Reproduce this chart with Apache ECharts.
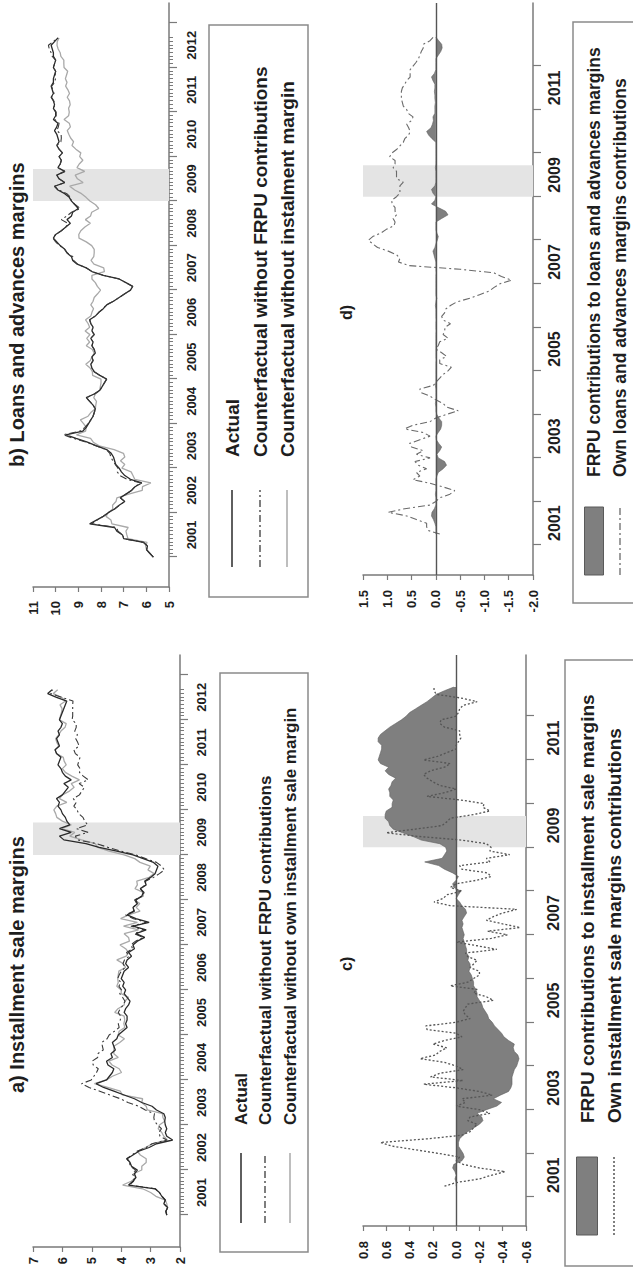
<!DOCTYPE html>
<html>
<head>
<meta charset="utf-8">
<script src="https://cdn.jsdelivr.net/npm/echarts@6/dist/echarts.min.js"></script>
<style>
  html, body { margin: 0; padding: 0; background: #fff; }
  body { width: 633px; height: 1276px; overflow: hidden; position: relative; }
  /* the figure is laid out landscape and turned a quarter turn counter-clockwise */
  #chart { position: absolute; left: 0; top: 0; width: 1276px; height: 633px;
           transform-origin: 0 0; transform: translateY(1276px) rotate(-90deg); }
</style>
</head>
<body>
<div id="chart"></div>
<script>
// ---------- data: monthly, January 2001 .. September 2012 ----------
const monthCount = 141;
const months = Array.from({ length: monthCount }, (_, i) => 2001 + i / 12);

const crisisBand = [2009.0, 2009.72];

const yearTicksAB = [2001, 2002, 2003, 2004, 2005, 2006, 2007, 2008, 2009, 2010, 2011, 2012, 2013];
const yearLabelsAB = [2001.5, 2002.5, 2003.5, 2004.5, 2005.5, 2006.5, 2007.5, 2008.5, 2009.5, 2010.5, 2011.5, 2012.5];
const yearTicksCD = [2001, 2002, 2003, 2004, 2005, 2006, 2007, 2008, 2009, 2010, 2011, 2012];
const yearLabelsCD = [2001.5, 2003.5, 2005.5, 2007.5, 2009.5, 2011.5];

// a) installment sale margins
const instActual = [
  2.45, 2.48, 2.42, 2.55, 2.50, 2.62, 2.70, 2.85, 3.75, 3.60, 3.50, 3.55,
  3.45, 3.65, 3.70, 3.80, 3.60, 3.40, 3.05, 2.80, 2.25, 2.45, 2.50, 2.45,
  2.50, 2.52, 2.50, 2.55, 2.80, 2.95, 3.30, 3.55, 3.90, 4.25, 4.60, 4.85,
  4.50, 4.40, 4.30, 4.25, 4.45, 4.50, 4.30, 4.35, 4.20, 4.25, 4.30, 4.15,
  4.10, 3.95, 3.80, 3.85, 3.80, 3.80, 3.90, 3.85, 3.75, 3.70, 3.80, 3.90,
  3.85, 3.95, 3.90, 4.00, 3.95, 3.90, 3.75, 3.85, 3.80, 3.65, 3.75, 3.55,
  3.60, 3.45, 3.20, 3.50, 3.15, 3.60, 3.05, 3.50, 3.80, 3.55, 3.60, 3.45,
  3.50, 3.30, 3.25, 3.35, 3.15, 3.20, 3.00, 2.85, 2.80, 2.75, 2.90, 3.25,
  3.60, 4.15, 4.75, 5.20, 5.95, 6.10, 5.70, 6.10, 5.75, 5.85, 5.90, 6.00,
  6.05, 6.15, 6.10, 6.20, 6.00, 5.90, 5.80, 5.95, 5.70, 5.90, 6.00, 6.05,
  6.15, 6.10, 6.05, 6.20, 6.25, 6.10, 6.15, 6.20, 6.10, 6.15, 6.05, 6.00,
  6.10, 6.05, 6.00, 5.95, 5.90, 5.85, 6.20, 6.50, 6.35
];
const instNoFrpu = [
  2.45, 2.48, 2.42, 2.55, 2.50, 2.61, 2.70, 2.84, 3.72, 3.58, 3.55, 3.62,
  3.51, 3.69, 3.72, 3.82, 3.63, 3.46, 3.15, 2.95, 2.45, 2.68, 2.72, 2.63,
  2.76, 2.87, 2.89, 2.87, 3.18, 3.40, 3.77, 4.03, 4.38, 4.73, 5.09, 5.35,
  5.02, 4.93, 4.84, 4.78, 4.95, 4.99, 4.80, 4.80, 4.61, 4.64, 4.66, 4.48,
  4.41, 4.23, 4.07, 4.10, 4.03, 4.02, 4.10, 4.03, 3.93, 3.87, 3.95, 4.05,
  3.99, 4.08, 4.01, 4.12, 4.07, 4.00, 3.86, 3.94, 3.89, 3.73, 3.82, 3.61,
  3.67, 3.51, 3.25, 3.56, 3.20, 3.67, 3.14, 3.58, 3.85, 3.58, 3.60, 3.47,
  3.54, 3.28, 3.22, 3.35, 3.17, 3.17, 2.90, 2.70, 2.53, 2.63, 2.80, 3.17,
  3.51, 4.01, 4.45, 4.83, 5.49, 5.56, 5.13, 5.52, 5.14, 5.24, 5.30, 5.45,
  5.50, 5.61, 5.53, 5.63, 5.42, 5.34, 5.25, 5.43, 5.12, 5.29, 5.42, 5.40,
  5.48, 5.44, 5.40, 5.56, 5.61, 5.43, 5.48, 5.55, 5.49, 5.58, 5.53, 5.53,
  5.67, 5.65, 5.65, 5.65, 5.65, 5.64, 6.03, 6.40, 6.33
];
const instNoOwn = [
  2.45, 2.48, 2.42, 2.45, 2.50, 2.82, 3.00, 3.27, 3.95, 3.66, 3.50, 3.58,
  3.30, 3.30, 3.15, 3.15, 3.35, 3.45, 3.17, 2.95, 2.43, 2.55, 2.62, 2.74,
  2.70, 2.52, 2.58, 2.60, 3.11, 3.15, 3.30, 3.27, 3.96, 4.03, 4.46, 4.91,
  4.50, 4.30, 3.99, 4.07, 4.31, 4.42, 4.10, 4.25, 4.25, 4.25, 4.05, 3.89,
  4.10, 4.07, 3.88, 3.91, 3.88, 3.90, 4.22, 4.11, 3.90, 3.88, 3.75, 4.00,
  4.00, 4.15, 4.10, 4.12, 4.10, 4.08, 3.85, 3.93, 4.15, 3.83, 3.75, 3.85,
  4.04, 3.72, 3.75, 3.90, 3.41, 3.92, 3.45, 4.02, 3.75, 3.36, 3.49, 3.37,
  3.55, 3.25, 3.25, 3.53, 3.45, 3.47, 3.05, 2.88, 3.09, 3.01, 3.36, 3.54,
  3.90, 4.41, 4.80, 4.88, 5.35, 5.75, 5.58, 6.02, 5.70, 6.00, 6.19, 6.23,
  6.29, 6.19, 5.85, 6.10, 6.00, 5.76, 5.60, 5.70, 5.42, 5.68, 5.90, 6.00,
  5.87, 5.94, 5.97, 6.20, 6.25, 6.12, 6.19, 6.23, 6.13, 6.05, 5.91, 5.87,
  6.10, 6.07, 6.03, 6.01, 6.08, 5.89, 6.03, 6.31, 6.16
];

// b) loans and advances margins
const loanActual = [
  5.69, 5.84, 5.99, 5.95, 6.13, 7.00, 7.05, 7.30, 7.40, 8.50, 8.20, 7.90,
  7.68, 7.40, 7.20, 6.95, 7.15, 6.90, 6.65, 6.50, 6.20, 6.70, 6.95, 7.10,
  7.20, 7.35, 7.40, 7.45, 7.55, 7.75, 8.20, 8.60, 9.10, 9.55, 8.80, 8.65,
  8.55, 8.45, 8.35, 8.30, 8.25, 8.35, 8.50, 8.65, 8.30, 8.05, 7.95, 7.85,
  7.75, 8.05, 8.30, 8.40, 8.45, 8.35, 8.40, 8.25, 8.30, 8.40, 8.35, 8.45,
  8.30, 8.40, 8.35, 8.45, 8.50, 8.25, 8.10, 7.90, 7.75, 7.45, 7.20, 6.95,
  6.70, 6.60, 6.90, 7.20, 7.90, 8.40, 8.65, 9.05, 9.25, 9.30, 9.50, 9.60,
  9.80, 9.95, 10.10, 10.00, 9.75, 9.55, 9.35, 9.50, 9.30, 9.25, 9.00, 9.15,
  9.30, 9.40, 9.60, 9.90, 10.05, 9.60, 9.85, 9.95, 9.60, 9.90, 9.80, 9.75,
  9.85, 9.70, 9.85, 9.95, 9.85, 9.90, 9.95, 10.05, 9.95, 9.90, 10.10, 10.00,
  10.00, 10.10, 10.05, 10.10, 10.20, 10.10, 10.15, 10.20, 10.10, 10.10, 10.05, 10.00,
  10.10, 10.05, 10.00, 10.10, 10.10, 10.15, 10.20, 10.05, 9.90
];
const loanNoFrpu = [
  5.69, 5.84, 5.99, 5.95, 6.13, 7.00, 7.03, 7.25, 7.31, 8.42, 8.17, 7.90,
  7.68, 7.40, 7.19, 6.95, 7.15, 6.90, 6.65, 6.52, 6.25, 6.85, 7.17, 7.28,
  7.25, 7.37, 7.48, 7.57, 7.61, 7.76, 8.20, 8.65, 9.20, 9.67, 8.92, 8.71,
  8.57, 8.45, 8.35, 8.29, 8.25, 8.35, 8.50, 8.65, 8.29, 8.05, 7.95, 7.85,
  7.75, 8.05, 8.30, 8.41, 8.45, 8.35, 8.40, 8.25, 8.30, 8.40, 8.35, 8.46,
  8.30, 8.40, 8.36, 8.45, 8.50, 8.25, 8.09, 7.90, 7.77, 7.45, 7.20, 6.95,
  6.70, 6.60, 6.90, 7.21, 7.90, 8.40, 8.65, 9.03, 9.21, 9.24, 9.48, 9.60,
  9.83, 10.00, 10.12, 10.00, 9.75, 9.55, 9.47, 9.75, 9.50, 9.30, 8.91, 9.13,
  9.30, 9.34, 9.51, 9.88, 10.05, 9.60, 9.85, 9.95, 9.59, 9.90, 9.80, 9.75,
  9.85, 9.70, 9.85, 9.95, 9.77, 9.75, 9.76, 9.95, 9.88, 9.85, 10.04, 9.98,
  9.98, 10.08, 10.04, 10.08, 10.18, 10.07, 10.13, 10.18, 10.04, 10.01, 10.02, 10.00,
  10.10, 10.05, 10.00, 10.15, 10.20, 10.28, 10.32, 10.11, 9.90
];
const loanNoOwn = [
  5.69, 5.84, 5.99, 6.03, 5.97, 6.81, 6.86, 6.90, 6.80, 7.52, 7.56, 7.78,
  7.68, 7.48, 7.49, 7.34, 7.30, 6.78, 6.18, 6.17, 5.80, 6.51, 6.59, 6.67,
  7.08, 6.95, 7.14, 6.95, 7.01, 7.42, 8.08, 8.34, 8.46, 9.08, 8.68, 8.65,
  8.77, 8.91, 8.57, 8.45, 8.25, 8.23, 8.20, 8.32, 8.25, 8.06, 8.03, 8.00,
  8.00, 8.37, 8.38, 8.48, 8.67, 8.47, 8.40, 8.30, 8.38, 8.65, 8.50, 8.63,
  8.49, 8.70, 8.50, 8.57, 8.68, 8.45, 8.40, 8.33, 8.45, 8.35, 8.30, 8.15,
  8.02, 8.16, 8.25, 8.40, 8.40, 7.85, 7.88, 8.31, 8.44, 8.32, 8.30, 8.30,
  8.41, 8.65, 8.97, 8.98, 8.89, 8.71, 8.47, 8.69, 8.46, 8.41, 8.10, 8.24,
  8.49, 8.66, 8.86, 9.16, 9.38, 8.79, 9.04, 9.14, 8.72, 9.06, 8.96, 8.80,
  8.94, 8.89, 9.11, 9.28, 9.21, 9.34, 9.42, 9.49, 9.35, 9.40, 9.63, 9.43,
  9.40, 9.43, 9.36, 9.39, 9.49, 9.39, 9.46, 9.56, 9.50, 9.57, 9.52, 9.47,
  9.63, 9.64, 9.64, 9.77, 9.80, 9.89, 9.94, 9.93, 9.85
];

// c) decomposition of installment sale margins
const instFrpuContrib = [
  null, null, null, 0.00, 0.00, 0.01, 0.00, 0.01, 0.03, 0.02, -0.05, -0.07,
  -0.06, -0.04, -0.02, -0.02, -0.03, -0.06, -0.10, -0.15, -0.20, -0.23, -0.22, -0.18,
  -0.26, -0.35, -0.39, -0.32, -0.38, -0.45, -0.47, -0.48, -0.48, -0.48, -0.49, -0.50,
  -0.52, -0.53, -0.54, -0.53, -0.50, -0.49, -0.50, -0.45, -0.41, -0.39, -0.36, -0.33,
  -0.31, -0.28, -0.27, -0.25, -0.23, -0.22, -0.20, -0.18, -0.18, -0.17, -0.15, -0.15,
  -0.14, -0.13, -0.11, -0.12, -0.12, -0.10, -0.11, -0.09, -0.09, -0.08, -0.07, -0.06,
  -0.07, -0.06, -0.05, -0.06, -0.05, -0.07, -0.09, -0.08, -0.05, -0.03, 0.00, -0.02,
  -0.04, 0.02, 0.03, 0.00, -0.02, 0.03, 0.10, 0.15, 0.27, 0.12, 0.10, 0.08,
  0.09, 0.14, 0.30, 0.37, 0.46, 0.54, 0.57, 0.58, 0.61, 0.61, 0.60, 0.55,
  0.55, 0.54, 0.57, 0.57, 0.58, 0.56, 0.55, 0.52, 0.58, 0.61, 0.58, 0.65,
  0.67, 0.66, 0.65, 0.64, 0.64, 0.67, 0.67, 0.65, 0.61, 0.57, 0.52, 0.47,
  0.43, 0.40, 0.35, 0.30, 0.25, 0.21, 0.17, 0.10, 0.02
];
const instOwnContrib = [
  null, null, null, 0.10, 0.00, -0.20, -0.30, -0.42, -0.20, -0.06, 0.00, -0.03,
  0.15, 0.35, 0.55, 0.65, 0.25, -0.05, -0.12, -0.15, -0.18, -0.10, -0.12, -0.29,
  -0.20, 0.00, -0.08, -0.05, -0.31, -0.20, 0.00, 0.28, -0.06, 0.22, 0.14, -0.06,
  0.00, 0.10, 0.31, 0.18, 0.14, 0.08, 0.20, 0.10, -0.05, 0.00, 0.25, 0.26,
  0.00, -0.12, -0.08, -0.06, -0.08, -0.10, -0.32, -0.26, -0.15, -0.18, 0.05, -0.10,
  -0.15, -0.20, -0.20, -0.12, -0.15, -0.18, -0.10, -0.08, -0.35, -0.18, 0.00, -0.30,
  -0.44, -0.27, -0.55, -0.40, -0.26, -0.32, -0.40, -0.52, 0.05, 0.19, 0.11, 0.08,
  -0.05, 0.05, 0.00, -0.18, -0.30, -0.27, -0.05, -0.03, -0.29, -0.26, -0.46, -0.29,
  -0.30, -0.26, -0.05, 0.32, 0.60, 0.35, 0.12, 0.08, 0.05, -0.15, -0.29, -0.23,
  -0.24, -0.04, 0.25, 0.10, 0.00, 0.14, 0.20, 0.25, 0.28, 0.22, 0.10, 0.05,
  0.28, 0.16, 0.08, 0.00, 0.00, -0.02, -0.04, -0.03, -0.03, 0.10, 0.14, 0.13,
  0.00, -0.02, -0.03, -0.06, -0.18, -0.04, 0.17, 0.19, 0.19
];

// d) decomposition of loans and advances margins
const loanFrpuContrib = [
  null, null, null, 0.00, 0.00, 0.00, 0.02, 0.05, 0.09, 0.08, 0.03, 0.00,
  0.00, 0.00, 0.01, 0.00, 0.00, 0.00, 0.00, -0.02, -0.05, -0.15, -0.22, -0.18,
  -0.05, -0.02, -0.08, -0.12, -0.06, -0.01, 0.00, -0.05, -0.10, -0.12, -0.12, -0.06,
  -0.02, 0.00, 0.00, 0.01, 0.00, 0.00, 0.00, 0.00, 0.01, 0.00, 0.00, 0.00,
  0.00, 0.00, 0.00, -0.01, 0.00, 0.00, 0.00, 0.00, 0.00, 0.00, 0.00, -0.01,
  0.00, 0.00, -0.01, 0.00, 0.00, 0.00, 0.01, 0.00, -0.02, 0.00, 0.00, 0.00,
  0.00, 0.00, 0.00, -0.01, 0.00, 0.00, 0.00, 0.02, 0.04, 0.06, 0.02, 0.00,
  -0.03, -0.05, -0.02, 0.00, 0.00, 0.00, -0.12, -0.25, -0.20, -0.05, 0.09, 0.02,
  0.00, 0.06, 0.09, 0.02, 0.00, 0.00, 0.00, 0.00, 0.01, 0.00, 0.00, 0.00,
  0.00, 0.00, 0.00, 0.00, 0.08, 0.15, 0.19, 0.10, 0.07, 0.05, 0.06, 0.02,
  0.02, 0.02, 0.01, 0.02, 0.02, 0.03, 0.02, 0.02, 0.06, 0.09, 0.03, 0.00,
  0.00, 0.00, 0.00, -0.05, -0.10, -0.13, -0.12, -0.06, 0.00
];
const loanOwnContrib = [
  null, null, null, -0.08, 0.16, 0.19, 0.19, 0.40, 0.60, 0.98, 0.64, 0.12,
  0.00, -0.08, -0.29, -0.39, -0.15, 0.12, 0.47, 0.33, 0.40, 0.19, 0.36, 0.43,
  0.12, 0.40, 0.26, 0.50, 0.54, 0.33, 0.12, 0.26, 0.64, 0.47, 0.12, 0.00,
  -0.22, -0.46, -0.22, -0.15, 0.00, 0.12, 0.30, 0.33, 0.05, -0.01, -0.08, -0.15,
  -0.25, -0.32, -0.08, -0.08, -0.22, -0.12, 0.00, -0.05, -0.08, -0.25, -0.15, -0.18,
  -0.19, -0.30, -0.15, -0.12, -0.18, -0.20, -0.30, -0.43, -0.70, -0.90, -1.10, -1.20,
  -1.32, -1.56, -1.35, -1.20, -0.50, 0.55, 0.77, 0.74, 0.81, 0.98, 1.20, 1.30,
  1.39, 1.30, 1.13, 1.02, 0.86, 0.84, 0.88, 0.81, 0.84, 0.84, 0.90, 0.91,
  0.81, 0.74, 0.74, 0.74, 0.67, 0.81, 0.81, 0.81, 0.88, 0.84, 0.84, 0.95,
  0.91, 0.81, 0.74, 0.67, 0.64, 0.56, 0.53, 0.56, 0.60, 0.50, 0.47, 0.57,
  0.60, 0.67, 0.69, 0.71, 0.71, 0.71, 0.69, 0.64, 0.60, 0.53, 0.53, 0.53,
  0.47, 0.41, 0.36, 0.33, 0.30, 0.26, 0.26, 0.12, 0.05
];

// ---------- styling ----------
const FONT = '"Liberation Sans", Arial, Helvetica, sans-serif';
const AXIS = '#7a7a7a';
const TEXT = '#1e1e1e';
const DARK = '#2a2a2a';
const LIGHT = '#a9a9a9';
const DASHDOT = [7, 3, 2, 3];
const FILL = '#7f7f7f';

const pairs = vals => vals.map((v, i) => [months[i], v]);

function yearAxis(grid, min, max, ticks, labels, fontSize, margin) {
  return {
    type: 'value', gridIndex: grid, position: 'bottom', min, max,
    axisLine: { show: true, onZero: false, lineStyle: { color: AXIS, width: 1.5 } },
    axisTick: { show: true, customValues: ticks, length: 8, lineStyle: { color: AXIS, width: 1.2 } },
    axisLabel: { customValues: labels, formatter: v => String(Math.floor(v)), fontSize,
                 fontWeight: 'bold', color: TEXT, margin, fontFamily: FONT },
    splitLine: { show: false }
  };
}
function monthTickAxis(grid, min, max) {
  return {
    type: 'value', gridIndex: grid, position: 'bottom', min, max,
    axisLine: { show: false },
    axisTick: { show: true, customValues: months, length: 4, lineStyle: { color: AXIS, width: 1 } },
    axisLabel: { show: false }, splitLine: { show: false }
  };
}
function levelAxis(grid, min, max, interval, fontSize, margin, digits) {
  return {
    type: 'value', gridIndex: grid, min, max, interval,
    axisLine: { show: true, lineStyle: { color: AXIS, width: 1.5 } },
    axisTick: { show: true, length: 5, lineStyle: { color: AXIS, width: 1.2 } },
    axisLabel: { fontSize, fontWeight: 'bold', color: TEXT, margin, fontFamily: FONT,
                 formatter: v => digits ? (Math.abs(v) < 1e-9 ? (0).toFixed(digits) : v.toFixed(digits)) : String(v) },
    splitLine: { show: false }
  };
}
function bandSeries(x, y, withZero) {
  const s = {
    type: 'line', xAxisIndex: x, yAxisIndex: y, data: [], z: 1, silent: true,
    markArea: { silent: true, itemStyle: { color: '#e4e4e4' },
                data: [[{ xAxis: crisisBand[0] }, { xAxis: crisisBand[1] }]] }
  };
  return s;
}
function zeroLine() {
  return { silent: true, symbol: 'none', label: { show: false },
           lineStyle: { color: '#555', width: 1.4, type: 'solid' }, data: [{ yAxis: 0 }] };
}
function lineSeries(name, x, y, vals, color, width, dash, z) {
  return {
    name, type: 'line', xAxisIndex: x, yAxisIndex: y, data: pairs(vals), z,
    showSymbol: false, symbol: 'none', connectNulls: false, animation: false,
    lineStyle: { color, width, type: dash || 'solid' }, itemStyle: { color }
  };
}

// legend frames drawn as plain graphics
function legendGraphics(cfg) {
  const els = [{
    type: 'rect', shape: { x: cfg.box[0], y: cfg.box[1], width: cfg.box[2], height: cfg.box[3] },
    style: { fill: '#fff', stroke: '#8a8a8a', lineWidth: 1.5 }, z: 10
  }];
  cfg.items.forEach((it, i) => {
    const yy = cfg.rows[i];
    if (it.kind === 'rect') {
      els.push({ type: 'rect', shape: { x: cfg.sample[0], y: yy - it.h / 2, width: cfg.sample[1] - cfg.sample[0], height: it.h },
                 style: { fill: FILL, stroke: '#5a5a5a', lineWidth: 1 }, z: 11 });
    } else {
      els.push({ type: 'line', shape: { x1: cfg.sample[0], y1: yy, x2: cfg.sample[1], y2: yy },
                 style: { stroke: it.color, lineWidth: it.width, lineDash: it.dash || null }, z: 11 });
    }
    els.push({ type: 'text', x: cfg.textX, y: yy, z: 11,
               style: { text: it.label, font: 'bold ' + cfg.font + 'px ' + FONT, fill: TEXT,
                        align: 'left', verticalAlign: 'middle', textAlign: 'left', textVerticalAlign: 'middle' } });
  });
  return els;
}

const graphics = [].concat(
  legendGraphics({ box: [24, 220, 579, 88], sample: [53, 123], textX: 151, rows: [241, 265, 290], font: 17,
    items: [
      { kind: 'line', color: DARK, width: 1.5, label: 'Actual' },
      { kind: 'line', color: '#3a3a3a', width: 1.3, dash: DASHDOT, label: 'Counterfactual without FRPU contributions' },
      { kind: 'line', color: LIGHT, width: 1.5, label: 'Counterfactual without own installment sale margin' }
    ] }),
  legendGraphics({ box: [679, 209, 572, 99], sample: [709, 786], textX: 819, rows: [232, 260, 287], font: 19,
    items: [
      { kind: 'line', color: DARK, width: 1.5, label: 'Actual' },
      { kind: 'line', color: '#3a3a3a', width: 1.3, dash: DASHDOT, label: 'Counterfactual without FRPU contributions' },
      { kind: 'line', color: LIGHT, width: 1.5, label: 'Counterfactual without instalment margin' }
    ] }),
  legendGraphics({ box: [10, 565, 606, 120], sample: [41, 119], textX: 153, rows: [587, 614], font: 19,
    items: [
      { kind: 'rect', h: 21, label: 'FRPU contributions to installment sale margins' },
      { kind: 'line', color: '#555', width: 1.5, dash: [2, 2], label: 'Own installment sale margins contributions' }
    ] }),
  legendGraphics({ box: [673, 573, 581, 120], sample: [701, 769], textX: 799, rows: [594, 620], font: 17.5,
    items: [
      { kind: 'rect', h: 19, label: 'FRPU contributions to loans and advances margins' },
      { kind: 'line', color: '#6a6a6a', width: 1.3, dash: DASHDOT, label: 'Own loans and advances margins contributions' }
    ] })
);

const titleStyle = (size) => ({ fontSize: size, fontWeight: 'bold', color: TEXT, fontFamily: FONT });

const option = {
  backgroundColor: '#fff',
  animation: false,
  title: [
    { text: 'a) Installment sale margins', left: 183, top: 7, padding: 0, textStyle: titleStyle(20) },
    { text: 'b) Loans and advances margins', left: 809, top: 7, padding: 0, textStyle: titleStyle(20) },
    { text: 'c)', left: 305, top: 338, padding: 0, textStyle: titleStyle(16) },
    { text: 'd)', left: 956, top: 338, padding: 0, textStyle: titleStyle(16) }
  ],
  grid: [
    { left: 29, top: 33, width: 592, height: 147 },
    { left: 689, top: 33, width: 584, height: 136 },
    { left: 50, top: 363, width: 571, height: 163 },
    { left: 701, top: 363, width: 572, height: 170 }
  ],
  xAxis: [
    yearAxis(0, 2000.29, 2013.44, yearTicksAB, yearLabelsAB, 13, 15),
    yearAxis(1, 2000.33, 2013.45, yearTicksAB, yearLabelsAB, 13, 16),
    yearAxis(2, 2000.34, 2013.40, yearTicksCD, yearLabelsCD, 16, 19),
    yearAxis(3, 2000.31, 2013.45, yearTicksCD, yearLabelsCD, 16, 13),
    monthTickAxis(0, 2000.29, 2013.44),
    monthTickAxis(1, 2000.33, 2013.45)
  ],
  yAxis: [
    levelAxis(0, 2, 7, 1, 13, 10, 0),
    levelAxis(1, 5, 11, 1, 13, 14, 0),
    levelAxis(2, -0.6, 0.8, 0.2, 13, 15, 1),
    levelAxis(3, -2, 1.5, 0.5, 13, 15, 1)
  ],
  graphic: { elements: graphics },
  series: [
    // a)
    bandSeries(0, 0),
    lineSeries('Counterfactual without own installment sale margin', 0, 0, instNoOwn, LIGHT, 1.3, null, 2),
    lineSeries('Counterfactual without FRPU contributions', 0, 0, instNoFrpu, '#3a3a3a', 1.1, DASHDOT, 3),
    lineSeries('Actual', 0, 0, instActual, DARK, 1.3, null, 4),
    // b)
    bandSeries(1, 1),
    lineSeries('Counterfactual without instalment margin', 1, 1, loanNoOwn, LIGHT, 1.3, null, 2),
    lineSeries('Actual', 1, 1, loanActual, DARK, 1.3, null, 3),
    lineSeries('Counterfactual without FRPU contributions', 1, 1, loanNoFrpu, '#3a3a3a', 1.1, DASHDOT, 4),
    // c)
    bandSeries(2, 2),
    Object.assign(lineSeries('FRPU contributions to installment sale margins', 2, 2, instFrpuContrib, '#5f5f5f', 0.6, null, 2),
      { areaStyle: { color: FILL, opacity: 1, origin: 0 } }),
    Object.assign(lineSeries('Own installment sale margins contributions', 2, 2, instOwnContrib, '#555', 1.3, [2, 2], 3),
      { markLine: zeroLine() }),
    // d)
    bandSeries(3, 3),
    Object.assign(lineSeries('FRPU contributions to loans and advances margins', 3, 3, loanFrpuContrib, '#5f5f5f', 0.6, null, 2),
      { areaStyle: { color: FILL, opacity: 1, origin: 0 } }),
    Object.assign(lineSeries('Own loans and advances margins contributions', 3, 3, loanOwnContrib, '#6a6a6a', 1.1, DASHDOT, 3),
      { markLine: zeroLine() })
  ]
};

const chart = echarts.init(document.getElementById('chart'), null, { renderer: 'svg', width: 1276, height: 633 });
chart.setOption(option);
</script>
</body>
</html>
